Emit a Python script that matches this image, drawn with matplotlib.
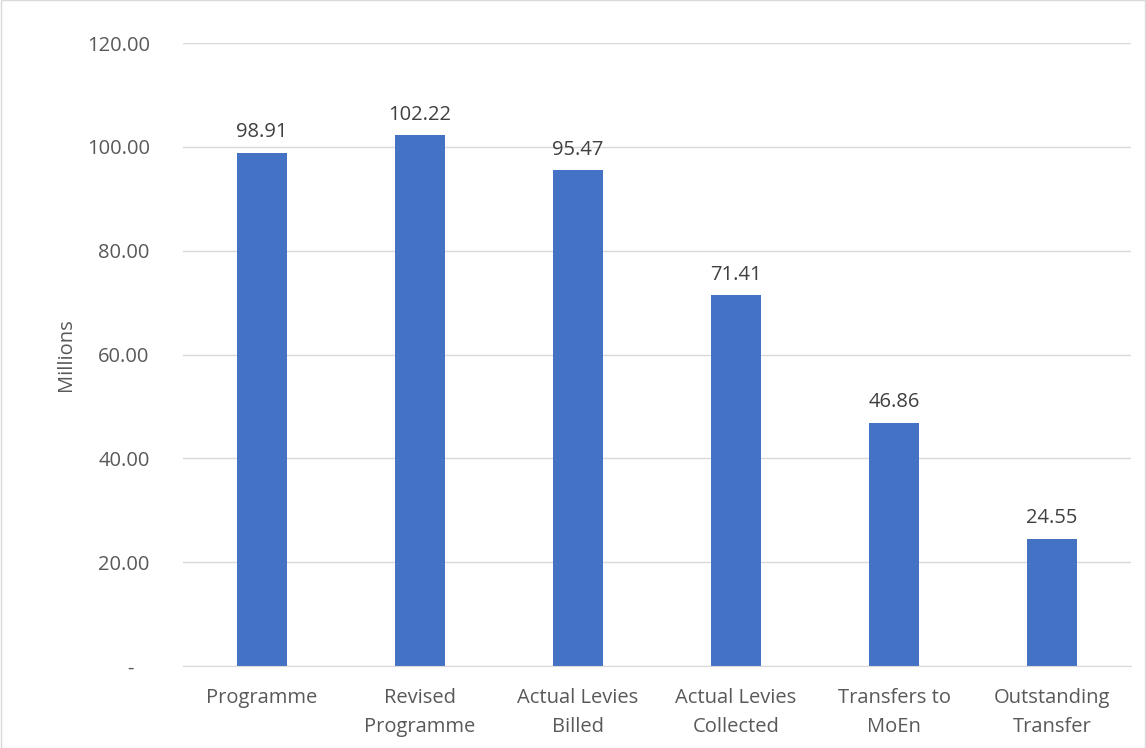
import matplotlib.pyplot as plt
from matplotlib.patches import Rectangle

# data
categories = ["Programme", "Revised\nProgramme", "Actual Levies\nBilled",
              "Actual Levies\nCollected", "Transfers to\nMoEn", "Outstanding\nTransfer"]
values = [98.91, 102.22, 95.47, 71.41, 46.86, 24.55]
y_ticks = [0, 20, 40, 60, 80, 100, 120]

BAR_COLOR = "#4472C4"
TEXT_COLOR = "#595959"
GRID_COLOR = "#D9D9D9"

plt.rcParams["font.family"] = ["Open Sans", "DejaVu Sans"]

fig = plt.figure(figsize=(11.46, 7.48), dpi=100)
ax = fig.add_axes([0.1597, 0.1096, 0.8273, 0.8329])

x = list(range(len(categories)))
ax.bar(x, values, width=0.32, color=BAR_COLOR, zorder=3)

for xi, v in zip(x, values):
    ax.text(xi, v + 2.0, f"{v:.2f}", ha="center", va="bottom",
            fontsize=14.5, color="#404040")

ax.set_xlim(-0.5, len(categories) - 0.5)
ax.set_ylim(0, 120)
ax.set_yticks(y_ticks)
ax.set_yticklabels([f"{t:.2f}" if t else "-   " for t in y_ticks])
ax.set_xticks(x)
ax.set_xticklabels(categories, linespacing=1.6)
ax.tick_params(axis="both", length=0, labelsize=14.5, labelcolor=TEXT_COLOR)
ax.tick_params(axis="y", pad=24)
ax.tick_params(axis="x", pad=16)

ax.grid(axis="y", color=GRID_COLOR, linewidth=1, zorder=0)
for side in ["top", "right", "left"]:
    ax.spines[side].set_visible(False)
ax.spines["bottom"].set_color(GRID_COLOR)
ax.spines["bottom"].set_zorder(4)

ax.set_ylabel("Millions", fontsize=14.5, color=TEXT_COLOR, labelpad=8)

# thin chart border like the Excel chart area
fig.patches.append(Rectangle((0.0005, 0.0005), 0.999, 0.999, transform=fig.transFigure,
                             fill=False, edgecolor=GRID_COLOR, linewidth=1))

fig.savefig("out.png", dpi=100)
